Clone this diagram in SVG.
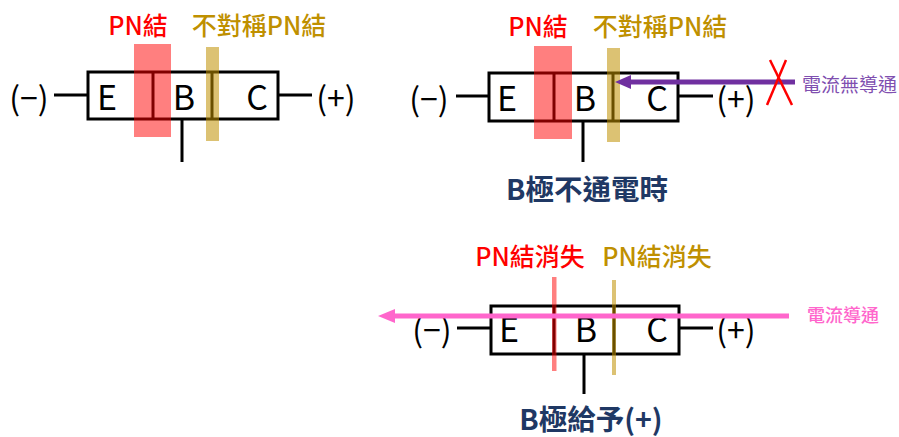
<svg xmlns="http://www.w3.org/2000/svg" width="899" height="437" viewBox="0 0 899 437">
<defs>
<style>
text{font-family:"Noto Sans CJK TC","Noto Sans",sans-serif;}
.ln{stroke:#000;stroke-width:3;fill:none;}
.box{stroke:#000;stroke-width:3;fill:#fff;}
.lt{font-size:34px;fill:#000;text-anchor:middle;}
.pm{font-size:32px;fill:#000;text-anchor:middle;}
.red{fill:#FF0000;font-size:25px;text-anchor:middle;font-weight:500;}
.gold{fill:#BF9000;font-size:25px;text-anchor:middle;font-weight:500;}
.cap{fill:#1F3864;font-size:28.5px;font-weight:bold;text-anchor:middle;}
.rband{fill:#FF0000;opacity:0.5;}
.gband{fill:#BF9000;opacity:0.55;}
</style>
</defs>

<!-- Diagram 1 -->
<g id="diagram1">
<line class="ln" x1="54" y1="95" x2="87" y2="95"/>
<line class="ln" x1="278" y1="95" x2="312" y2="95"/>
<line class="ln" x1="182" y1="119" x2="182" y2="162"/>
<rect class="box" x="88" y="72" width="190" height="47"/>
<line class="ln" x1="153" y1="72" x2="153" y2="119"/>
<line class="ln" x1="212" y1="72" x2="212" y2="119"/>
<rect class="rband" x="134" y="44" width="37" height="93"/>
<rect class="gband" x="206" y="47" width="13" height="94"/>
<text class="pm" x="29" y="110">(−)</text>
<text class="lt" x="107" y="110">E</text>
<text class="lt" x="184" y="110">B</text>
<text class="lt" x="257" y="110">C</text>
<text class="pm" x="336" y="110">(+)</text>
<text class="red" x="138" y="35">PN結</text>
<text class="gold" x="259" y="35">不對稱PN結</text>
</g>

<!-- Diagram 2 -->
<g id="diagram2">
<line class="ln" x1="456" y1="96" x2="488" y2="96"/>
<line class="ln" x1="678" y1="96" x2="713" y2="96"/>
<line class="ln" x1="583" y1="121" x2="583" y2="162"/>
<rect class="box" x="489" y="73" width="189" height="48"/>
<line class="ln" x1="554" y1="73" x2="554" y2="121"/>
<line class="ln" x1="613" y1="73" x2="613" y2="121"/>
<rect class="rband" x="534" y="46" width="38" height="93"/>
<rect class="gband" x="607" y="48" width="13" height="94"/>
<text class="pm" x="429" y="111">(−)</text>
<text class="lt" x="507" y="111">E</text>
<text class="lt" x="585" y="111">B</text>
<text class="lt" x="657" y="111">C</text>
<text class="pm" x="736" y="111">(+)</text>
<text class="red" x="538" y="36">PN結</text>
<text class="gold" x="660" y="36">不對稱PN結</text>
<text class="cap" x="587" y="200">B極不通電時</text>
</g>

<!-- Diagram 3 -->
<g id="diagram3">
<line class="ln" x1="457" y1="328" x2="490" y2="328"/>
<line class="ln" x1="679" y1="328" x2="713" y2="328"/>
<line class="ln" x1="584" y1="354" x2="584" y2="394"/>
<rect class="box" x="491" y="306" width="188" height="48"/>
<line class="ln" x1="554" y1="306" x2="554" y2="354"/>
<line class="ln" x1="614" y1="306" x2="614" y2="354"/>
<rect class="rband" x="552" y="277" width="4.5" height="94"/>
<rect class="gband" x="612" y="280" width="4" height="95"/>
<text class="pm" x="432" y="342">(−)</text>
<text class="lt" x="509" y="342">E</text>
<text class="lt" x="586" y="342">B</text>
<text class="lt" x="657" y="342">C</text>
<text class="pm" x="736" y="342">(+)</text>
<text class="red" x="530" y="266">PN結消失</text>
<text class="gold" x="657" y="266">PN結消失</text>
<text class="cap" x="591" y="430">B極給予(+)</text>
</g>

<!-- Connectors -->
<g id="connectors">
<line x1="795" y1="82" x2="628" y2="82" stroke="#7030A0" stroke-width="5"/>
<polygon points="615,82 631,75 631,89" fill="#7030A0"/>
<line x1="770" y1="60" x2="792" y2="105" stroke="#FF0000" stroke-width="2.5"/>
<line x1="786" y1="60" x2="767" y2="105" stroke="#FF0000" stroke-width="2.5"/>
<text x="802" y="92" font-size="19" fill="#7F4FB0">電流無導通</text>
<line x1="789" y1="316" x2="392" y2="316" stroke="#FF66CC" stroke-width="5"/>
<polygon points="378,316 395,309 395,323" fill="#FF66CC"/>
<text x="807" y="322" font-size="18" fill="#FF66CC" font-weight="500">電流導通</text>
</g>
</svg>
